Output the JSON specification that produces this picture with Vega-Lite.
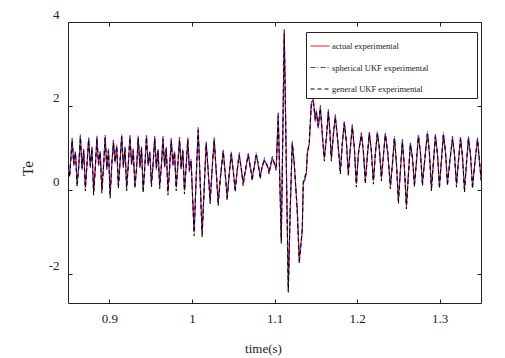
{
"$schema": "https://vega.github.io/schema/vega-lite/v6.json",
"width": 413,
"height": 281,
"autosize": {"type": "none"},
"padding": {"left": 68, "top": 22, "right": 24, "bottom": 55},
"background": "white",
"config": {
  "view": {"stroke": "#222", "strokeWidth": 1},
  "axis": {"domain": false, "grid": false, "tickColor": "#222", "tickSize": -4, "tickWidth": 1,
    "labelFont": "Liberation Serif, Times New Roman, serif", "labelFontSize": 13, "labelColor": "#222", "labelPadding": 13,
    "labelFlush": false, "labelOverlap": false,
    "titleFont": "Liberation Serif, Times New Roman, serif", "titleFontWeight": "normal", "titleFontSize": 13, "titleColor": "#222"},
  "legend": {"orient": "none", "legendX": 238, "legendY": 10, "strokeColor": "#222", "fillColor": "white", "padding": 4,
    "symbolType": "stroke", "symbolSize": 361, "symbolStrokeWidth": 1, "labelFont": "Liberation Serif, Times New Roman, serif", "labelFontSize": 8.5,
    "labelColor": "#222", "labelOffset": 2, "rowPadding": 6.5, "labelLimit": 300}
},
"data": {"values": [
{"t":0.850,"a":0.55,"s":0.52,"g":0.58},
{"t":0.852,"a":0.35,"s":0.38,"g":0.3},
{"t":0.855,"a":1.2,"s":1.24,"g":1.17},
{"t":0.857,"a":0.6,"s":0.57,"g":0.62},
{"t":0.859,"a":0.9,"s":0.93,"g":0.88},
{"t":0.861,"a":0.15,"s":0.18,"g":0.07},
{"t":0.863,"a":0.55,"s":0.52,"g":0.57},
{"t":0.865,"a":1.28,"s":1.32,"g":1.25},
{"t":0.867,"a":0.5,"s":0.47,"g":0.52},
{"t":0.869,"a":0.95,"s":0.98,"g":0.93},
{"t":0.871,"a":0.05,"s":0.08,"g":-0.03},
{"t":0.873,"a":0.6,"s":0.57,"g":0.62},
{"t":0.875,"a":1.22,"s":1.26,"g":1.19},
{"t":0.877,"a":0.55,"s":0.52,"g":0.57},
{"t":0.879,"a":1.0,"s":1.03,"g":0.98},
{"t":0.881,"a":-0.05,"s":-0.02,"g":-0.13},
{"t":0.883,"a":0.5,"s":0.47,"g":0.52},
{"t":0.885,"a":1.25,"s":1.29,"g":1.22},
{"t":0.887,"a":0.6,"s":0.57,"g":0.62},
{"t":0.889,"a":0.9,"s":0.93,"g":0.88},
{"t":0.891,"a":0.0,"s":0.03,"g":-0.08},
{"t":0.893,"a":0.55,"s":0.52,"g":0.57},
{"t":0.895,"a":1.27,"s":1.31,"g":1.24},
{"t":0.897,"a":0.5,"s":0.47,"g":0.52},
{"t":0.899,"a":0.95,"s":0.98,"g":0.93},
{"t":0.901,"a":-0.12,"s":-0.09,"g":-0.2},
{"t":0.903,"a":0.6,"s":0.57,"g":0.62},
{"t":0.905,"a":1.15,"s":1.19,"g":1.12},
{"t":0.907,"a":0.65,"s":0.62,"g":0.67},
{"t":0.909,"a":1.05,"s":1.08,"g":1.03},
{"t":0.911,"a":0.1,"s":0.13,"g":0.02},
{"t":0.913,"a":0.65,"s":0.62,"g":0.67},
{"t":0.915,"a":1.3,"s":1.34,"g":1.27},
{"t":0.917,"a":0.55,"s":0.52,"g":0.57},
{"t":0.919,"a":1.0,"s":1.03,"g":0.98},
{"t":0.921,"a":0.05,"s":0.08,"g":-0.03},
{"t":0.923,"a":0.6,"s":0.57,"g":0.62},
{"t":0.925,"a":1.27,"s":1.31,"g":1.24},
{"t":0.927,"a":0.6,"s":0.57,"g":0.62},
{"t":0.929,"a":0.95,"s":0.98,"g":0.93},
{"t":0.931,"a":0.1,"s":0.13,"g":0.02},
{"t":0.933,"a":0.5,"s":0.47,"g":0.52},
{"t":0.935,"a":1.26,"s":1.3,"g":1.23},
{"t":0.937,"a":0.55,"s":0.52,"g":0.57},
{"t":0.939,"a":1.0,"s":1.03,"g":0.98},
{"t":0.941,"a":0.0,"s":0.03,"g":-0.08},
{"t":0.943,"a":0.55,"s":0.52,"g":0.57},
{"t":0.945,"a":1.28,"s":1.32,"g":1.25},
{"t":0.947,"a":0.6,"s":0.57,"g":0.62},
{"t":0.949,"a":0.9,"s":0.93,"g":0.88},
{"t":0.951,"a":0.15,"s":0.18,"g":0.07},
{"t":0.953,"a":0.6,"s":0.57,"g":0.62},
{"t":0.955,"a":1.25,"s":1.29,"g":1.22},
{"t":0.957,"a":0.5,"s":0.47,"g":0.52},
{"t":0.959,"a":0.95,"s":0.98,"g":0.93},
{"t":0.961,"a":0.1,"s":0.13,"g":0.02},
{"t":0.963,"a":0.55,"s":0.52,"g":0.57},
{"t":0.965,"a":1.24,"s":1.28,"g":1.21},
{"t":0.967,"a":0.55,"s":0.52,"g":0.57},
{"t":0.969,"a":1.0,"s":1.03,"g":0.98},
{"t":0.971,"a":-0.05,"s":-0.02,"g":-0.13},
{"t":0.973,"a":0.5,"s":0.47,"g":0.52},
{"t":0.975,"a":1.2,"s":1.24,"g":1.17},
{"t":0.977,"a":0.6,"s":0.57,"g":0.62},
{"t":0.979,"a":0.9,"s":0.93,"g":0.88},
{"t":0.981,"a":0.05,"s":0.08,"g":-0.03},
{"t":0.983,"a":0.6,"s":0.57,"g":0.62},
{"t":0.985,"a":1.22,"s":1.26,"g":1.19},
{"t":0.987,"a":0.5,"s":0.47,"g":0.52},
{"t":0.989,"a":0.95,"s":0.98,"g":0.93},
{"t":0.991,"a":-0.02,"s":0.01,"g":-0.1},
{"t":0.993,"a":0.55,"s":0.52,"g":0.57},
{"t":0.995,"a":1.21,"s":1.25,"g":1.18},
{"t":0.997,"a":0.45,"s":0.42,"g":0.47},
{"t":0.999,"a":0.7,"s":0.73,"g":0.68},
{"t":1.0027,"a":-1.02,"s":-0.98,"g":-1.1},
{"t":1.0051,"a":0.25,"s":0.22,"g":0.27},
{"t":1.0076,"a":1.45,"s":1.49,"g":1.42},
{"t":1.01,"a":0.2,"s":0.17,"g":0.22},
{"t":1.0124,"a":-1.05,"s":-1.01,"g":-1.13},
{"t":1.0148,"a":0.0,"s":-0.03,"g":0.02},
{"t":1.0173,"a":1.12,"s":1.16,"g":1.09},
{"t":1.0197,"a":0.45,"s":0.42,"g":0.47},
{"t":1.0221,"a":-0.26,"s":-0.23,"g":-0.34},
{"t":1.0245,"a":0.5,"s":0.47,"g":0.52},
{"t":1.027,"a":1.21,"s":1.25,"g":1.18},
{"t":1.0294,"a":0.45,"s":0.42,"g":0.47},
{"t":1.0318,"a":-0.3,"s":-0.27,"g":-0.38},
{"t":1.0348,"a":0.35,"s":0.32,"g":0.37},
{"t":1.0379,"a":0.93,"s":0.97,"g":0.9},
{"t":1.0403,"a":0.4,"s":0.37,"g":0.42},
{"t":1.0427,"a":-0.18,"s":-0.15,"g":-0.26},
{"t":1.0451,"a":0.35,"s":0.32,"g":0.37},
{"t":1.0476,"a":0.88,"s":0.92,"g":0.85},
{"t":1.05,"a":0.45,"s":0.42,"g":0.47},
{"t":1.0524,"a":0.02,"s":0.05,"g":-0.06},
{"t":1.0548,"a":0.45,"s":0.42,"g":0.47},
{"t":1.0573,"a":0.85,"s":0.89,"g":0.82},
{"t":1.0597,"a":0.5,"s":0.47,"g":0.52},
{"t":1.0621,"a":0.17,"s":0.2,"g":0.09},
{"t":1.0651,"a":0.5,"s":0.47,"g":0.52},
{"t":1.0682,"a":0.85,"s":0.89,"g":0.82},
{"t":1.0706,"a":0.55,"s":0.52,"g":0.57},
{"t":1.073,"a":0.29,"s":0.32,"g":0.21},
{"t":1.0755,"a":0.55,"s":0.52,"g":0.57},
{"t":1.0779,"a":0.85,"s":0.89,"g":0.82},
{"t":1.0803,"a":0.6,"s":0.57,"g":0.62},
{"t":1.0827,"a":0.33,"s":0.36,"g":0.25},
{"t":1.0851,"a":0.55,"s":0.52,"g":0.57},
{"t":1.0876,"a":0.71,"s":0.75,"g":0.68},
{"t":1.0906,"a":0.6,"s":0.57,"g":0.62},
{"t":1.0936,"a":0.45,"s":0.48,"g":0.37},
{"t":1.0955,"a":0.6,"s":0.57,"g":0.62},
{"t":1.0973,"a":0.76,"s":0.8,"g":0.73},
{"t":1.1,"a":0.62,"s":0.59,"g":0.64},
{"t":1.1021,"a":0.52,"s":0.55,"g":0.46},
{"t":1.1045,"a":1.81,"s":1.85,"g":1.76},
{"t":1.1082,"a":-1.21,"s":-1.15,"g":-1.28},
{"t":1.1118,"a":3.83,"s":3.78,"g":3.72},
{"t":1.1167,"a":-2.4,"s":-2.33,"g":-2.45},
{"t":1.1191,"a":-0.43,"s":-0.48,"g":-0.38},
{"t":1.1215,"a":1.12,"s":1.16,"g":1.08},
{"t":1.1239,"a":0.62,"s":0.58,"g":0.66},
{"t":1.1276,"a":-0.5,"s":-0.45,"g":-0.56},
{"t":1.13,"a":-1.69,"s":-1.64,"g":-1.76},
{"t":1.1336,"a":-0.98,"s":-1.02,"g":-0.94},
{"t":1.1348,"a":0.14,"s":0.1,"g":0.18},
{"t":1.1385,"a":0.38,"s":0.35,"g":0.42},
{"t":1.1397,"a":0.86,"s":0.9,"g":0.83},
{"t":1.1421,"a":1.1,"s":1.07,"g":1.14},
{"t":1.1445,"a":2.05,"s":2.09,"g":2.0},
{"t":1.147,"a":2.17,"s":2.13,"g":2.1},
{"t":1.1494,"a":1.65,"s":1.62,"g":1.69},
{"t":1.1506,"a":1.88,"s":1.92,"g":1.84},
{"t":1.153,"a":1.48,"s":1.45,"g":1.52},
{"t":1.1555,"a":1.98,"s":2.02,"g":1.94},
{"t":1.1579,"a":1.3,"s":1.27,"g":1.34},
{"t":1.1603,"a":0.75,"s":0.78,"g":0.68},
{"t":1.1627,"a":1.2,"s":1.17,"g":1.24},
{"t":1.1652,"a":1.88,"s":1.92,"g":1.85},
{"t":1.167,"a":1.4,"s":1.37,"g":1.42},
{"t":1.1688,"a":0.76,"s":0.79,"g":0.68},
{"t":1.1712,"a":1.3,"s":1.27,"g":1.32},
{"t":1.1736,"a":1.76,"s":1.8,"g":1.73},
{"t":1.1762,"a":1.25,"s":1.22,"g":1.27},
{"t":1.1797,"a":0.45,"s":0.48,"g":0.37},
{"t":1.1821,"a":1.1,"s":1.07,"g":1.12},
{"t":1.1845,"a":1.6,"s":1.64,"g":1.57},
{"t":1.187,"a":1.15,"s":1.12,"g":1.17},
{"t":1.1894,"a":0.4,"s":0.43,"g":0.32},
{"t":1.1918,"a":1.0,"s":0.97,"g":1.02},
{"t":1.1942,"a":1.52,"s":1.56,"g":1.49},
{"t":1.1967,"a":0.98,"s":0.95,"g":1.0},
{"t":1.1991,"a":0.14,"s":0.17,"g":0.06},
{"t":1.2015,"a":0.85,"s":0.82,"g":0.87},
{"t":1.2052,"a":1.33,"s":1.37,"g":1.3},
{"t":1.2076,"a":0.92,"s":0.89,"g":0.94},
{"t":1.21,"a":0.21,"s":0.24,"g":0.13},
{"t":1.2124,"a":0.8,"s":0.77,"g":0.82},
{"t":1.2148,"a":1.36,"s":1.4,"g":1.33},
{"t":1.2172,"a":0.93,"s":0.9,"g":0.95},
{"t":1.2197,"a":0.21,"s":0.24,"g":0.13},
{"t":1.2221,"a":0.85,"s":0.82,"g":0.87},
{"t":1.2245,"a":1.36,"s":1.4,"g":1.33},
{"t":1.227,"a":0.98,"s":0.95,"g":1.0},
{"t":1.2294,"a":0.29,"s":0.32,"g":0.21},
{"t":1.2318,"a":0.8,"s":0.77,"g":0.82},
{"t":1.2342,"a":1.33,"s":1.37,"g":1.3},
{"t":1.2372,"a":0.86,"s":0.83,"g":0.88},
{"t":1.2403,"a":0.1,"s":0.13,"g":0.02},
{"t":1.2427,"a":0.6,"s":0.57,"g":0.62},
{"t":1.2452,"a":1.24,"s":1.28,"g":1.21},
{"t":1.2476,"a":0.64,"s":0.61,"g":0.66},
{"t":1.25,"a":-0.26,"s":-0.23,"g":-0.34},
{"t":1.2524,"a":0.45,"s":0.42,"g":0.47},
{"t":1.2548,"a":1.17,"s":1.21,"g":1.14},
{"t":1.2572,"a":0.55,"s":0.52,"g":0.57},
{"t":1.2597,"a":-0.38,"s":-0.35,"g":-0.46},
{"t":1.2621,"a":0.35,"s":0.32,"g":0.37},
{"t":1.2645,"a":1.1,"s":1.14,"g":1.07},
{"t":1.267,"a":0.77,"s":0.74,"g":0.79},
{"t":1.2694,"a":0.14,"s":0.17,"g":0.06},
{"t":1.2718,"a":0.65,"s":0.62,"g":0.67},
{"t":1.2742,"a":1.29,"s":1.33,"g":1.26},
{"t":1.2767,"a":0.88,"s":0.85,"g":0.9},
{"t":1.2791,"a":0.17,"s":0.2,"g":0.09},
{"t":1.2821,"a":0.75,"s":0.72,"g":0.77},
{"t":1.2852,"a":1.36,"s":1.4,"g":1.33},
{"t":1.2876,"a":0.85,"s":0.82,"g":0.87},
{"t":1.29,"a":0.05,"s":0.08,"g":-0.03},
{"t":1.2924,"a":0.65,"s":0.62,"g":0.67},
{"t":1.2948,"a":1.29,"s":1.33,"g":1.26},
{"t":1.2973,"a":0.85,"s":0.82,"g":0.87},
{"t":1.2997,"a":0.1,"s":0.13,"g":0.02},
{"t":1.3021,"a":0.7,"s":0.67,"g":0.72},
{"t":1.3045,"a":1.33,"s":1.37,"g":1.3},
{"t":1.307,"a":0.9,"s":0.87,"g":0.92},
{"t":1.3094,"a":0.17,"s":0.2,"g":0.09},
{"t":1.3124,"a":0.7,"s":0.67,"g":0.72},
{"t":1.3155,"a":1.24,"s":1.28,"g":1.21},
{"t":1.3179,"a":0.84,"s":0.81,"g":0.86},
{"t":1.3203,"a":0.14,"s":0.17,"g":0.06},
{"t":1.3227,"a":0.68,"s":0.65,"g":0.7},
{"t":1.3252,"a":1.24,"s":1.28,"g":1.21},
{"t":1.3276,"a":0.78,"s":0.75,"g":0.8},
{"t":1.33,"a":0.02,"s":0.05,"g":-0.06},
{"t":1.3324,"a":0.62,"s":0.59,"g":0.64},
{"t":1.3348,"a":1.24,"s":1.28,"g":1.21},
{"t":1.3373,"a":0.82,"s":0.79,"g":0.84},
{"t":1.3397,"a":0.1,"s":0.13,"g":0.02},
{"t":1.3427,"a":0.66,"s":0.63,"g":0.68},
{"t":1.3458,"a":1.21,"s":1.25,"g":1.18},
{"t":1.348,"a":0.7,"s":0.67,"g":0.72},
{"t":1.35,"a":0.3,"s":0.33,"g":0.22}
]},
"layer": [
  {
    "transform": [{"fold": ["a", "s", "g"], "as": ["series", "Te"]}],
    "mark": {"type": "line", "strokeWidth": 1.1, "clip": true},
    "encoding": {
      "x": {"field": "t", "type": "quantitative",
        "scale": {"domain": [0.85, 1.35], "nice": false, "zero": false},
        "axis": {"orient": "bottom", "values": [0.9, 1, 1.1, 1.2, 1.3], "labelExpr": "'' + datum.value",
          "labelBaseline": "top", "title": "time(s)", "titleX": 195, "titleY": 49, "titleBaseline": "alphabetic", "titleAlign": "center"}},
      "y": {"field": "Te", "type": "quantitative",
        "scale": {"domain": [-2.7, 4], "nice": false, "zero": false},
        "axis": {"orient": "left", "values": [-2, 0, 2, 4], "labelExpr": "'' + datum.value", "labelOffset": -8,
          "labelBaseline": "middle", "title": "Te", "titleX": -36, "titleY": 146, "titleBaseline": "alphabetic", "titleAlign": "center", "titleAngle": -90, "titleFontSize": 15}},
      "color": {"field": "series", "type": "nominal",
        "scale": {"domain": ["a", "s", "g"], "range": ["#ff0000", "#3a3aff", "#000000"]},
        "legend": {"title": null, "labelExpr": "datum.label == 'a' ? 'actual experimental' : datum.label == 's' ? 'spherical UKF experimental\u00a0\u00a0\u00a0\u00a0\u00a0\u00a0\u00a0\u00a0\u00a0\u00a0\u00a0\u00a0\u00a0\u00a0\u00a0\u00a0\u00a0\u00a0\u00a0\u00a0\u00a0\u200b' : 'general UKF experimental'"}},
      "strokeDash": {"field": "series", "type": "nominal",
        "scale": {"domain": ["a", "s", "g"], "range": [[1, 0], [5, 2, 1, 2], [4, 3]]},
        "legend": {"title": null, "labelExpr": "datum.label == 'a' ? 'actual experimental' : datum.label == 's' ? 'spherical UKF experimental\u00a0\u00a0\u00a0\u00a0\u00a0\u00a0\u00a0\u00a0\u00a0\u00a0\u00a0\u00a0\u00a0\u00a0\u00a0\u00a0\u00a0\u00a0\u00a0\u00a0\u00a0\u200b' : 'general UKF experimental'"}},
      "order": {"field": "t", "type": "quantitative"}
    }
  },
  {
    "mark": {"type": "point", "opacity": 0},
    "encoding": {
      "x": {"datum": 1.1, "type": "quantitative",
        "scale": {"domain": [0.85, 1.35], "nice": false, "zero": false},
        "axis": {"orient": "top", "values": [0.9, 1, 1.1, 1.2, 1.3], "labels": false, "title": null}},
      "y": {"datum": 0, "type": "quantitative",
        "scale": {"domain": [-2.7, 4], "nice": false, "zero": false},
        "axis": {"orient": "right", "values": [-2, 0, 2, 4], "labels": false, "title": null}}
    }
  }
],
"resolve": {"axis": {"x": "independent", "y": "independent"}}
}
